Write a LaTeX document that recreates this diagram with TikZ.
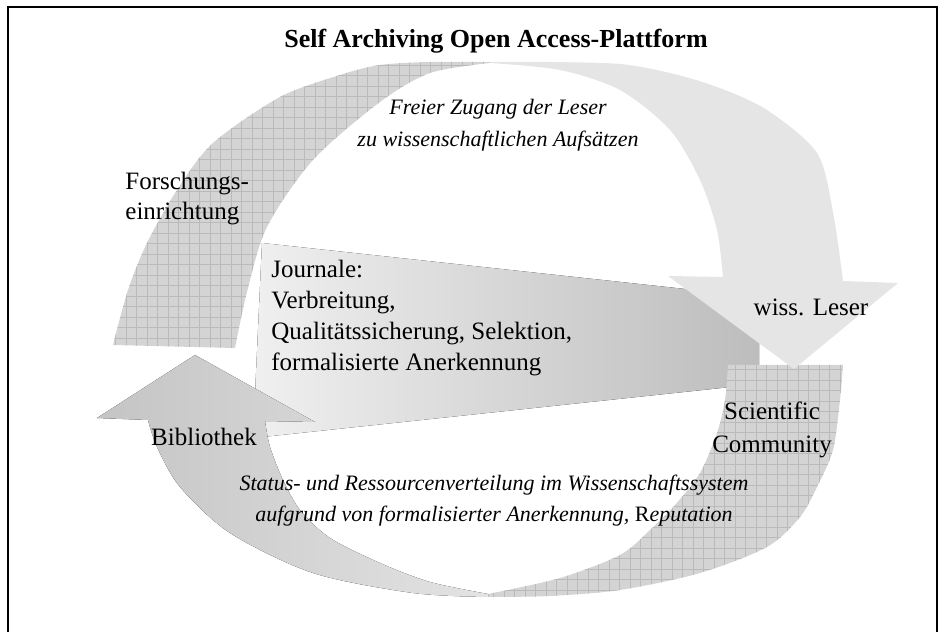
\documentclass[tikz,border=0pt]{standalone}
\usepackage{fontspec}
\setmainfont{Liberation Serif}
\begin{document}
\begin{tikzpicture}[
    x=0.5pt, y=0.5pt,
    every node/.style={font=\fontsize{12.5}{15.6}\selectfont, inner sep=0pt},
    hatchfill/.style={fill=black!17},
    hatchline/.style={draw=black!27, line width=0.4pt, step=10.5},
    plainarrow/.style={fill=black!10},
    grayarrow/.style={left color=black!23, right color=black!11},
    journalband/.style={left color=black!6, right color=black!26},
    frameline/.style={draw=black, line width=1.4pt},
    titlelabel/.style={font=\fontsize{13}{15}\selectfont\bfseries},
    sidelabel/.style={align=left, anchor=west},
    cyclelabel/.style={align=center, font=\fontsize{11}{16}\selectfont\itshape},
]
\useasboundingbox (0,0) rectangle (943,632);

% Frame
\draw[frameline] (8,-20) -- (8,625) -- (937,625) -- (937,-20);

% Journale band
\fill[journalband] (262,389) -- (759,335) -- (759,248) -- (253,194) -- cycle;

% Forschungseinrichtung arc (hatched)
\begin{scope}
  \clip plot[smooth] coordinates {(113,287) (128,342) (147,389) (177,442) (213,489) (280,535) (340,557) (380,567) (430,570) (490,570)}
     -- plot[smooth] coordinates {(490,569) (430,559) (380,530) (313,472) (267,405) (247,340) (235,284)} -- cycle;
  \fill[hatchfill] (100,250) rectangle (500,580);
  \draw[hatchline] (100,250) grid (500,580);
\end{scope}

% Scientific Community arc (hatched)
\begin{scope}
  \clip plot[smooth] coordinates {(843,267) (840,232) (833,182) (817,145) (800,115) (767,85) (700,59) (620,42) (550,36) (488,35)}
     -- plot[smooth] coordinates {(488,38) (560,54) (620,77) (650,102) (675,127) (700,159) (717,199) (725,232) (728,267)} -- cycle;
  \fill[hatchfill] (480,20) rectangle (850,270);
  \draw[hatchline] (480,20) grid (850,270);
\end{scope}

% Bibliothek arrow
\fill[grayarrow] plot[smooth] coordinates {(488,35) (413,39) (313,59) (230,99) (180,145) (157,185) (148,212)}
   -- (97,214) -- (195,277) -- (315,210)
   -- plot[smooth] coordinates {(265,211) (270,185) (283,152) (300,122) (330,94) (380,69) (430,50) (488,38)} -- cycle;

% wiss. Leser arrow
\fill[plainarrow] plot[smooth] coordinates {(490,570) (550,570) (620,568) (670,559) (717,545) (767,522) (817,479) (833,420) (843,351)}
   -- (898,349) -- (794,263) -- (668,356)
   -- plot[smooth] coordinates {(723,355) (717,402) (700,452) (670,502) (620,542) (560,562) (490,569)} -- cycle;

% Labels
\node[titlelabel] (title) at (496,591) {Self Archiving Open Access-Plattform};
\node[cyclelabel] (zugang) at (498,507) {Freier Zugang der Leser\\zu wissenschaftlichen Aufsätzen};
\node[sidelabel, font=\fontsize{12.5}{15}\selectfont] (forschung) at (125,433) {Forschungs-\\einrichtung};
\node[sidelabel] (journale) at (271,314) {Journale:\\Verbreitung,\\Qualitätssicherung, Selektion,\\formalisierte Anerkennung};
\node (leser) at (811,325) {wiss. Leser};
\node[align=center, font=\fontsize{12.5}{16.5}\selectfont] (community) at (772,202) {Scientific\\Community};
\node (bibliothek) at (204,195) {Bibliothek};
\node[cyclelabel, font=\fontsize{11}{15.5}\selectfont\itshape] (status) at (494,131) {Status- und Ressourcenverteilung im Wissenschaftssystem\\aufgrund von formalisierter Anerkennung, {\upshape R}eputation};

\end{tikzpicture}
\end{document}
